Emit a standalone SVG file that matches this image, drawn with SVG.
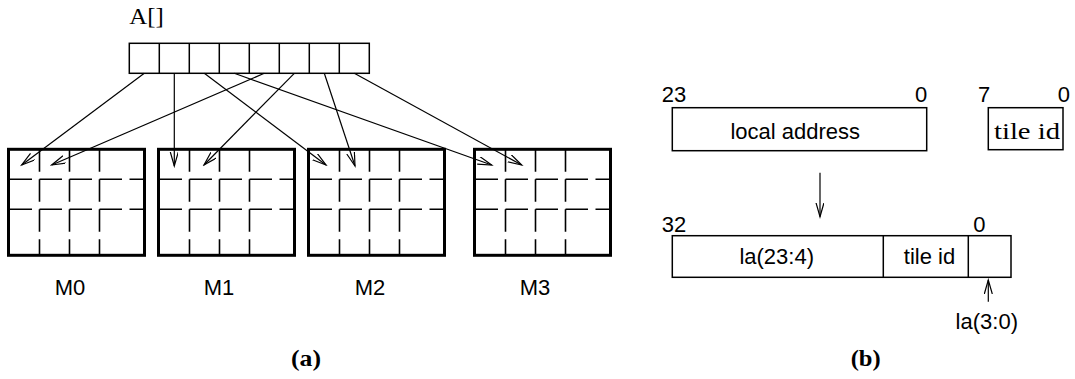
<svg xmlns="http://www.w3.org/2000/svg" width="1075" height="379" viewBox="0 0 1075 379">
<defs>
<marker id="ah" markerUnits="userSpaceOnUse" markerWidth="16" markerHeight="10" viewBox="0 0 16 10" refX="14" refY="4" orient="auto">
<path d="M0,0 L14,4 L0,8" fill="none" stroke="#000" stroke-width="1.2"/>
</marker>
<g id="grid">
<rect x="0" y="0" width="136" height="106" fill="none" stroke="#000" stroke-width="3"/>
<g stroke="#000" stroke-width="1.6" stroke-dasharray="22.5 7.5" fill="none">
<line x1="31" y1="0" x2="31" y2="106"/>
<line x1="61" y1="0" x2="61" y2="106"/>
<line x1="91" y1="0" x2="91" y2="106"/>
<line x1="1" y1="30" x2="136" y2="30"/>
<line x1="1" y1="60" x2="136" y2="60"/>
</g>
</g>
</defs>
<style>
.sans{font-family:"Liberation Sans",Arial,sans-serif;font-size:22px;fill:#000}
.serif{font-family:"Liberation Serif","Times New Roman",serif;font-size:24px;fill:#000}
.box{fill:none;stroke:#000;stroke-width:1.5}
.conn{stroke:#000;stroke-width:1.2;fill:none;marker-end:url(#ah)}
</style>
<rect width="1075" height="379" fill="#fff"/>

<g id="array">
<text class="serif" x="129.3" y="24" textLength="34.5" lengthAdjust="spacingAndGlyphs">A[]</text>
<rect class="box" x="129.3" y="43.3" width="240" height="30"/>
<path class="box" d="M159.3,43.3V73.3M189.3,43.3V73.3M219.3,43.3V73.3M249.3,43.3V73.3M279.3,43.3V73.3M309.3,43.3V73.3M339.3,43.3V73.3"/>
</g>

<g id="M0"><use href="#grid" x="8.5" y="149.3"/><text class="sans" x="70" y="295" text-anchor="middle">M0</text></g>
<g id="M1"><use href="#grid" x="158.5" y="149.3"/><text class="sans" x="219" y="295" text-anchor="middle">M1</text></g>
<g id="M2"><use href="#grid" x="308.5" y="149.3"/><text class="sans" x="370" y="295" text-anchor="middle">M2</text></g>
<g id="M3"><use href="#grid" x="474.5" y="149.3"/><text class="sans" x="535" y="295" text-anchor="middle">M3</text></g>

<g id="connectors">
<line class="conn" x1="144.3" y1="73.3" x2="21.7" y2="165"/>
<line class="conn" x1="174.3" y1="73.3" x2="174.3" y2="166"/>
<line class="conn" x1="204.3" y1="73.3" x2="326" y2="165"/>
<line class="conn" x1="234.3" y1="73.3" x2="491.7" y2="165"/>
<line class="conn" x1="264.3" y1="73.3" x2="51.7" y2="165"/>
<line class="conn" x1="294.3" y1="73.3" x2="204" y2="165"/>
<line class="conn" x1="324.3" y1="73.3" x2="355" y2="166"/>
<line class="conn" x1="354.3" y1="73.3" x2="521.7" y2="165"/>
<line class="conn" x1="820" y1="172.7" x2="820" y2="216.7"/>
<line class="conn" x1="988.3" y1="301.7" x2="988.3" y2="280"/>
</g>

<g id="local-address">
<text class="sans" x="661.7" y="102">23</text>
<text class="sans" x="927.3" y="102" text-anchor="end">0</text>
<rect class="box" x="672.3" y="107.7" width="254.4" height="43"/>
<text class="sans" x="795.3" y="138.5" text-anchor="middle">local address</text>
</g>

<g id="tile-id">
<text class="sans" x="978" y="102">7</text>
<text class="sans" x="1070" y="102" text-anchor="end">0</text>
<rect class="box" x="988.3" y="107.7" width="74.7" height="42"/>
<text class="serif" x="994" y="138.5" font-size="27" textLength="66" lengthAdjust="spacingAndGlyphs">tile id</text>
</g>

<g id="global-address">
<text class="sans" x="661.7" y="232">32</text>
<text class="sans" x="985.5" y="232" text-anchor="end">0</text>
<rect class="box" x="672.3" y="235.7" width="338.7" height="41.6"/>
<path class="box" d="M883.3,235.7V277.3M968.3,235.7V277.3"/>
<text class="sans" x="776.7" y="264" text-anchor="middle">la(23:4)</text>
<text class="sans" x="929.5" y="264" text-anchor="middle">tile id</text>
<text class="sans" x="986.8" y="329" text-anchor="middle">la(3:0)</text>
</g>

<g id="captions">
<text class="serif" x="291" y="366" font-size="22" font-weight="bold" textLength="30" lengthAdjust="spacingAndGlyphs">(a)</text>
<text class="serif" x="850.7" y="366" font-size="22" font-weight="bold" textLength="30" lengthAdjust="spacingAndGlyphs">(b)</text>
</g>
</svg>
